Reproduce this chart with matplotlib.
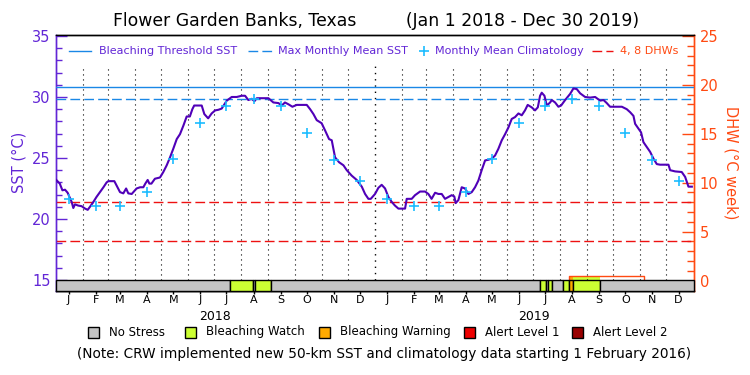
import numpy as np
import pandas as pd
import matplotlib
matplotlib.use('Agg')
import matplotlib.pyplot as plt
import matplotlib.dates as mdates
from matplotlib.lines import Line2D
from matplotlib.patches import Rectangle

# ---------------- data ----------------
start_date = pd.Timestamp('2018-01-01')
end_date = pd.Timestamp('2020-01-01')

# daily SST (days since 2018-01-01)
sst_day = [0, 4, 7, 10, 13, 16, 17.6, 19.5, 21.4, 25, 29, 33, 36, 38.6, 42.5, 46, 50, 54, 57.7,
           59.6, 66.5, 69, 73, 76.8, 80, 82.5, 86.4, 92, 96, 99.7, 102, 104.7, 106.6, 109, 113,
           118.8, 122.6, 126.5, 130.3, 134, 138, 141.7, 145.6, 149.4, 153, 155.9, 158, 166.6,
           169.6, 174, 178, 182, 185.7, 189.5, 195.3, 201, 206.7, 212.5, 216.3, 220, 224, 227,
           229.6, 243, 248.7, 254.5, 258.3, 262, 266, 270.5, 275.5, 287, 290.8, 294.6, 298.4,
           304, 308, 312.5, 315.6, 317.5, 319.4, 324, 329, 332.8, 338.5, 344.2, 350, 353.8,
           357.6, 360.3, 365.2, 369, 372.8, 376.7, 380.5, 384.3, 388, 392, 399.6, 401.5, 407.2,
           411, 416.8, 422.5, 426.3, 430, 434, 437.8, 441.6, 445.4, 449.2, 453, 456, 457.6,
           460.7, 464.5, 468.3, 472.2, 476, 479.8, 483.6, 487.4, 491.3, 495, 498.9, 502.7,
           506.5, 510.4, 514.2, 518, 521.8, 525.6, 529.5, 533.3, 537, 540.1, 544.7, 548.5,
           551.7, 554.3, 556.2, 559.3, 562, 565.8, 567.7, 571.5, 575.3, 578.4, 583, 588.7,
           592.5, 596.3, 600.2, 605.9, 611.6, 617.4, 623.1, 627, 630.7, 634.5, 648, 653.6,
           657.5, 661.3, 663.2, 667, 670, 672.7, 676.5, 680.4, 684.2, 688, 691.8, 701.4, 703.3,
           709, 716.6, 720.5, 724.3, 728.2]
sst_val = [23.2, 22.9, 22.35, 22.4, 22.15, 21.65, 21.4, 20.9, 21.2, 21.1, 21.05, 20.85, 20.75,
           21.0, 21.4, 21.8, 22.2, 22.6, 23.0, 23.1, 23.1, 22.75, 22.2, 22.1, 22.5, 22.1, 22.05,
           22.5, 22.6, 22.6, 22.9, 23.2, 22.9, 22.9, 23.3, 23.4, 23.85, 24.4, 25.05, 25.75,
           26.55, 26.95, 27.65, 28.4, 28.4, 29.0, 29.3, 29.3, 28.6, 28.25, 28.65, 28.9, 28.95,
           29.05, 29.7, 30.0, 30.0, 30.1, 30.1, 29.75, 29.85, 29.65, 29.9, 29.9, 29.55, 29.5,
           29.3, 29.55, 29.4, 29.2, 29.35, 29.35, 29.0, 28.6, 28.1, 27.85, 27.25, 26.55, 26.45,
           25.75, 25.05, 24.65, 24.4, 24.0, 23.55, 23.2, 22.65, 22.05, 21.65, 21.65, 22.05,
           22.55, 22.8, 22.5, 21.8, 21.4, 21.1, 20.85, 20.85, 21.65, 21.65, 21.95, 22.25, 22.25,
           22.05, 21.65, 22.15, 22.05, 22.05, 21.65, 21.8, 21.95, 21.85, 21.3, 21.55, 22.6,
           22.5, 22.05, 22.2, 22.6, 23.15, 24.0, 24.8, 24.85, 24.95, 25.2, 25.75, 26.45, 26.95,
           27.5, 28.2, 28.35, 28.65, 28.5, 28.9, 29.35, 29.15, 28.9, 29.15, 30.1, 30.35, 30.1,
           29.3, 29.55, 29.75, 29.55, 29.2, 29.3, 29.75, 30.25, 30.7, 30.65, 30.3, 30.0, 29.95,
           30.0, 29.7, 29.75, 29.5, 29.2, 29.2, 29.0, 28.75, 28.45, 27.8, 27.4, 27.1, 26.3,
           25.9, 25.5, 24.95, 24.5, 24.45, 24.45, 24.0, 23.9, 23.85, 23.45, 22.65, 22.65]

# monthly mean climatology (Jan..Dec), plotted mid-month each year
clim_val = [21.65, 21.1, 21.1, 22.2, 24.9, 27.9, 29.3, 29.8, 29.3, 27.05, 24.85, 23.15]
years = [2018, 2019]
mmm_sst = 29.8
threshold_sst = 30.8
dhw_levels = [4, 8]

# Degree Heating Weeks (step values)
dhw_dates = ['2018-01-01', '2019-08-12', '2019-11-05', '2020-01-01']
dhw_vals = [0.0, 0.5, 0.0, 0.0]

# Bleaching alert strip: segment start dates and alert level (0 = no stress)
strip_starts = ['2018-01-01', '2018-07-19', '2018-08-14', '2018-08-17', '2018-09-04',
                '2019-07-09', '2019-07-16', '2019-07-18', '2019-07-23', '2019-08-05',
                '2019-08-12', '2019-08-16', '2019-09-16']
strip_levels = [0, 1, 0, 1, 0, 1, 0, 1, 0, 1, 2, 1, 0]

alert_names = ['No Stress', 'Bleaching Watch', 'Bleaching Warning', 'Alert Level 1', 'Alert Level 2']
alert_colors = ['#c4c4c4', '#ccff33', '#ffaa00', '#ee0000', '#990000']
month_letters = ['J', 'F', 'M', 'A', 'M', 'J', 'J', 'A', 'S', 'O', 'N', 'D']

# ---------------- style ----------------
PURPLE = '#6226d6'
LINE_PURPLE = '#5000b8'
ORANGE = '#ff4a12'
BLUE = '#1a88e6'
CYAN = '#1cbcff'
RED = '#ee1111'

W, H = 750, 375
fig = plt.figure(figsize=(7.5, 3.75), dpi=100)
ax_l, ax_r, ax_t, ax_b = 56.3, 694.3, 35.0, 290.5
ax = fig.add_axes([ax_l / W, 1 - ax_b / H, (ax_r - ax_l) / W, (ax_b - ax_t) / H])
ax2 = ax.twinx()

def fx(x):
    return x / W

def fy(y):
    return 1 - y / H

x0 = mdates.date2num(start_date)
x1 = mdates.date2num(end_date) + 1
ax.set_xlim(x0, x1)
ax.set_ylim(14.138, 35.08)
ax2.set_ylim(-1.02, 25.1)

# SST series
sst_dates = [start_date + pd.Timedelta(days=d) for d in sst_day]
ax.plot(sst_dates, sst_val, color=LINE_PURPLE, lw=1.5, zorder=5)

# climatology markers
clim_dates = [pd.Timestamp(year=y, month=m + 1, day=15) for y in years for m in range(12)]
ax.plot(clim_dates, clim_val * len(years), linestyle='none', marker='+', ms=7, mew=1.2,
        color=CYAN, zorder=6)

# threshold and MMM
ax.axhline(threshold_sst, color=BLUE, lw=1.0, zorder=4)
ax.axhline(mmm_sst, color=BLUE, lw=1.0, dashes=(7, 3), zorder=4)
for lvl in dhw_levels:
    ax2.axhline(lvl, color=RED, lw=1.0, dashes=(7, 3), zorder=4)

# month dotted lines
month_starts = pd.date_range('2018-02-01', '2019-12-01', freq='MS')
top_dots = 32.5
for d in month_starts:
    lw = 1.0 if (d.month == 1) else 0.8
    ax.plot([d, d], [15, top_dots], color='k', lw=lw, linestyle=(0, (1, 3.5)), zorder=2)

# alert strip
strip_edges = [mdates.date2num(pd.Timestamp(s)) for s in strip_starts] + [x1]
ybot = ax.get_ylim()[0]
for i, lvl in enumerate(strip_levels):
    ax.add_patch(Rectangle((strip_edges[i], ybot), strip_edges[i + 1] - strip_edges[i], 15 - ybot,
                           facecolor=alert_colors[lvl], edgecolor='k', lw=1.0, zorder=7,
                           clip_on=False))

# DHW line and alert fill under it
dhw_x = [mdates.date2num(pd.Timestamp(s)) for s in dhw_dates]
for i, lvl in enumerate(strip_levels):
    if lvl == 0:
        continue
    a, b = strip_edges[i], strip_edges[i + 1]
    k = np.searchsorted(dhw_x, a, side='right') - 1
    v = dhw_vals[k]
    if v > 0:
        ax2.fill_between([a, b], 0, v, color=alert_colors[lvl], lw=0, zorder=3)
ax2.step(dhw_x, dhw_vals, where='post', color=ORANGE, lw=1.0, zorder=4)

# axes styling
ax.set_zorder(ax2.get_zorder() + 1)
ax.patch.set_visible(False)
for a in (ax, ax2):
    a.spines['top'].set_color('k')
    a.spines['bottom'].set_color('k')
    a.spines['left'].set_color(PURPLE)
    a.spines['right'].set_color(ORANGE)
    for s in a.spines.values():
        s.set_linewidth(1.0)

ax.set_yticks([15, 20, 25, 30, 35])
ax.set_yticks(np.arange(15, 36, 1), minor=True)
ax.tick_params(axis='y', which='major', direction='in', length=8, width=1.0, color=PURPLE,
               labelcolor=PURPLE, labelsize=10.5, pad=4)
ax.tick_params(axis='y', which='minor', direction='in', length=4.5, width=1.0, color=PURPLE)
ax2.set_yticks([0, 5, 10, 15, 20, 25])
ax2.set_yticks(np.arange(0, 26, 1), minor=True)
ax2.tick_params(axis='y', which='major', direction='in', length=9, width=1.0, color=ORANGE,
                labelcolor=ORANGE, labelsize=10.5, pad=4)
ax2.tick_params(axis='y', which='minor', direction='in', length=5, width=1.0, color=ORANGE)

mid_months = pd.date_range('2018-01-01', '2019-12-01', freq='MS') + pd.Timedelta(days=14)
ax.set_xticks(mdates.date2num(mid_months))
ax.set_xticklabels(month_letters * len(years))
ax.tick_params(axis='x', which='major', direction='out', length=2, width=1.0, color='k',
               labelsize=8, pad=1.5)
ax2.tick_params(axis='x', length=0)

for y in years:
    mid = mdates.date2num(pd.Timestamp(year=y, month=7, day=2))
    ax.text(mid, -(316 - ax_b) / (ax_b - ax_t), str(y), transform=ax.get_xaxis_transform(),
            ha='center', va='center', fontsize=9, color='k')

ax.set_ylabel('SST (°C)', color=PURPLE, fontsize=10.5, labelpad=4)
ax2.set_ylabel('DHW (°C week)', color=ORANGE, fontsize=10.5, rotation=270, labelpad=14)

# title
fig.text(fx(376), fy(21), 'Flower Garden Banks, Texas         (Jan 1 2018 - Dec 30 2019)',
         ha='center', va='center', fontsize=12.4, color='k')

# top legend (manual)
ly = fy(51)
fig.add_artist(Line2D([fx(69), fx(91)], [ly, ly], color=BLUE, lw=1.0))
fig.text(fx(99), ly, 'Bleaching Threshold SST', color=PURPLE, fontsize=8, va='center', ha='left')
fig.add_artist(Line2D([fx(248), fx(272)], [ly, ly], color=BLUE, lw=1.0, dashes=(7, 3)))
fig.text(fx(278), ly, 'Max Monthly Mean SST', color=PURPLE, fontsize=8, va='center', ha='left')
fig.add_artist(Line2D([fx(424)], [ly], color=CYAN, marker='+', ms=7, mew=1.2, linestyle='none'))
fig.text(fx(435), ly, 'Monthly Mean Climatology', color=PURPLE, fontsize=8, va='center', ha='left')
fig.add_artist(Line2D([fx(592), fx(613)], [ly, ly], color=RED, lw=1.0, dashes=(7, 3)))
fig.text(fx(620), ly, '4, 8 DHWs', color=ORANGE, fontsize=8, va='center', ha='left')

# bottom legend
box_x = [88, 185, 318.5, 464, 572]
by = 332
for bx, name, col in zip(box_x, alert_names, alert_colors):
    fig.add_artist(Rectangle((fx(bx), fy(by + 5.5)), 11 / W, 11 / H, facecolor=col,
                             edgecolor='k', lw=1.0, transform=fig.transFigure))
    fig.text(fx(bx + 21), fy(by), name, fontsize=8.5, va='center', ha='left', color='k')

fig.text(fx(384), fy(354),
         '(Note: CRW implemented new 50-km SST and climatology data starting 1 February 2016)',
         ha='center', va='center', fontsize=9.8, color='k')

fig.savefig('out.png', dpi=100)
